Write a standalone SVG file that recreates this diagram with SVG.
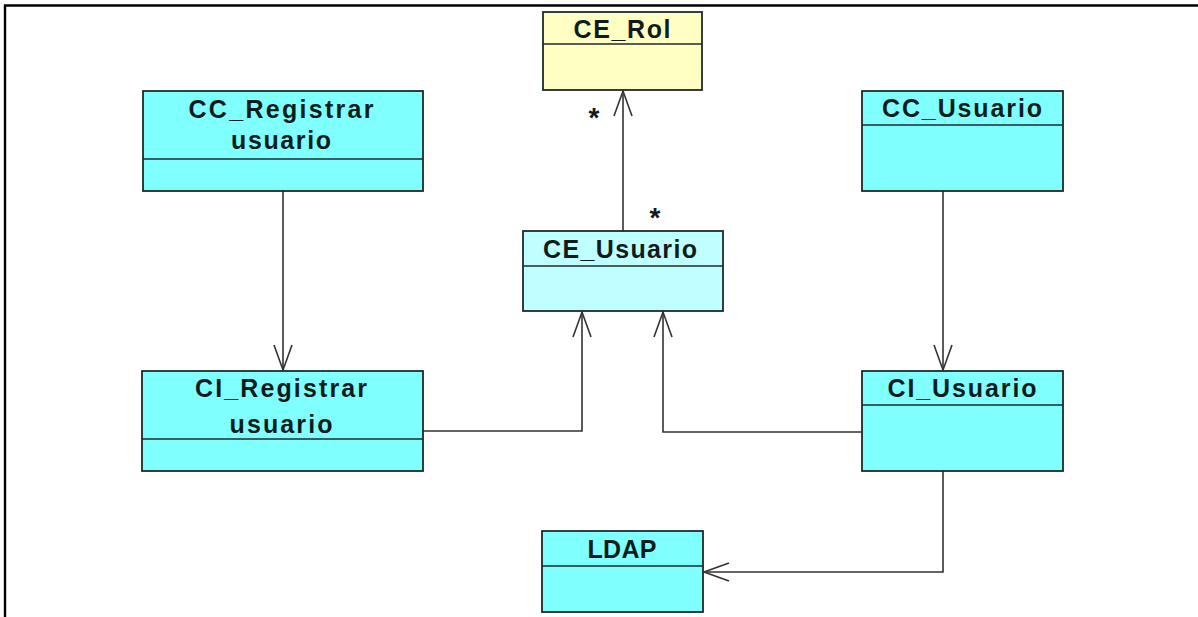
<svg xmlns="http://www.w3.org/2000/svg" width="1198" height="617" viewBox="0 0 1198 617">
<style>
.box{stroke:#1e2a2a;stroke-width:1.8}
.cy{fill:#80ffff}
.lc{fill:#c0ffff}
.ye{fill:#ffffc4}
.sep{stroke:#1e2a2a;stroke-width:1.5}
.t{font-family:"Liberation Sans",Arial,sans-serif;font-weight:bold;font-size:25px;fill:#101c1c;text-anchor:middle}
.st{font-family:"Liberation Sans",Arial,sans-serif;font-weight:bold;font-size:28px;fill:#101c1c;text-anchor:middle}
.c{fill:none;stroke:#333;stroke-width:1.6}
</style>
<defs>
<marker id="open" markerUnits="userSpaceOnUse" viewBox="-28 -12 32 24" refX="0" refY="0" markerWidth="32" markerHeight="24" orient="auto">
<path d="M-25,-9 L0,0 L-25,9" fill="none" stroke="#333" stroke-width="1.6"/>
</marker>
</defs>
<rect width="1198" height="617" fill="#fff"/>
<g id="frame">
<line x1="4" y1="5.5" x2="1198" y2="5.5" stroke="#000" stroke-width="2.4"/>
<line x1="5" y1="5" x2="5" y2="617" stroke="#000" stroke-width="2.4"/>
</g>
<g id="connectors">
<path class="c" d="M623,231 L623,91" marker-end="url(#open)"/>
<path class="c" d="M283,191 L283,370" marker-end="url(#open)"/>
<path class="c" d="M943,191 L943,370" marker-end="url(#open)"/>
<path class="c" d="M423,431 L582,431 L582,312" marker-end="url(#open)"/>
<path class="c" d="M862,432 L663,432 L663,312" marker-end="url(#open)"/>
<path class="c" d="M943,471 L943,572 L704,572" marker-end="url(#open)"/>
<text class="st" x="594" y="127">*</text>
<text class="st" x="655" y="227">*</text>
</g>
<g id="CE_Rol">
<rect class="box ye" x="543" y="12" width="159" height="78"/>
<line class="sep" x1="543" y1="44" x2="702" y2="44"/>
<text class="t" x="622" y="38" textLength="97" lengthAdjust="spacing">CE_Rol</text>
</g>
<g id="CC_Registrar">
<rect class="box cy" x="143" y="91" width="280" height="100"/>
<line class="sep" x1="143" y1="159" x2="423" y2="159"/>
<text class="t" x="281" y="118" textLength="185" lengthAdjust="spacing">CC_Registrar</text>
<text class="t" x="281" y="149" textLength="100" lengthAdjust="spacing">usuario</text>
</g>
<g id="CC_Usuario">
<rect class="box cy" x="862" y="91" width="201" height="100"/>
<line class="sep" x1="862" y1="125" x2="1063" y2="125"/>
<text class="t" x="962" y="117" textLength="160" lengthAdjust="spacing">CC_Usuario</text>
</g>
<g id="CE_Usuario">
<rect class="box lc" x="523" y="231" width="200" height="80"/>
<line class="sep" x1="523" y1="266" x2="723" y2="266"/>
<text class="t" x="620" y="258" textLength="154" lengthAdjust="spacing">CE_Usuario</text>
</g>
<g id="CI_Registrar">
<rect class="box cy" x="142" y="371" width="281" height="100"/>
<line class="sep" x1="142" y1="439" x2="423" y2="439"/>
<text class="t" x="281" y="397" textLength="172" lengthAdjust="spacing">CI_Registrar</text>
<text class="t" x="281" y="433" textLength="103" lengthAdjust="spacing">usuario</text>
</g>
<g id="CI_Usuario">
<rect class="box cy" x="862" y="371" width="201" height="100"/>
<line class="sep" x1="862" y1="405" x2="1063" y2="405"/>
<text class="t" x="962" y="397" textLength="149" lengthAdjust="spacing">CI_Usuario</text>
</g>
<g id="LDAP">
<rect class="box cy" x="542" y="531" width="161" height="81"/>
<line class="sep" x1="542" y1="566" x2="703" y2="566"/>
<text class="t" x="622" y="558" textLength="69" lengthAdjust="spacing">LDAP</text>
</g>
</svg>
